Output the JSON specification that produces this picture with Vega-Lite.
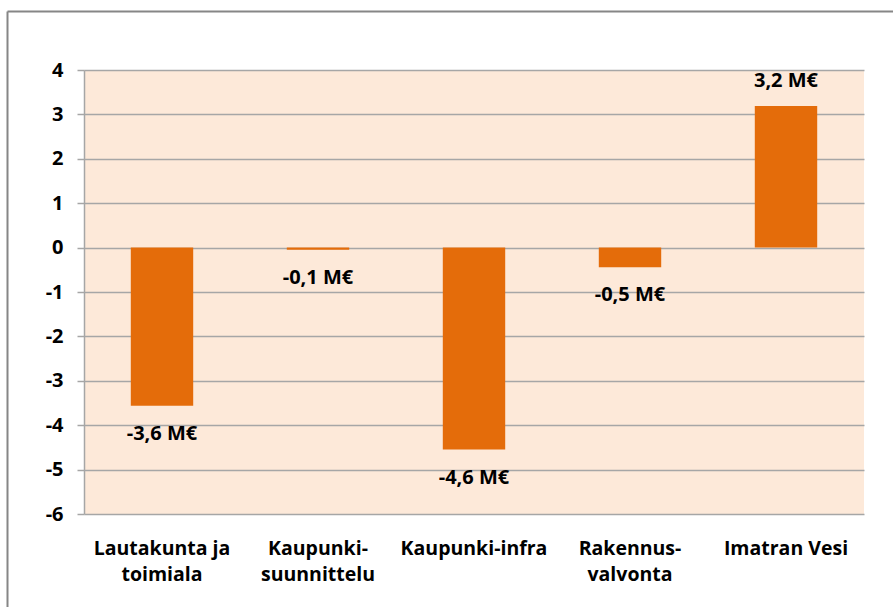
{
  "$schema": "https://vega.github.io/schema/vega-lite/v6.json",
  "width": 780,
  "height": 444,
  "autosize": "none",
  "padding": {"left": 84, "top": 70, "right": 29, "bottom": 93},
  "background": "#FFFFFF",
  "config": {
    "view": {"fill": "#FDE9D9", "stroke": null},
    "font": "Open Sans"
  },
  "data": {
    "values": [
      {"yksikko": "Lautakunta ja toimiala", "arvo": -3.56, "teksti": "-3,6 M€"},
      {"yksikko": "Kaupunki-suunnittelu", "arvo": -0.05, "teksti": "-0,1 M€"},
      {"yksikko": "Kaupunki-infra", "arvo": -4.55, "teksti": "-4,6 M€"},
      {"yksikko": "Rakennus-valvonta", "arvo": -0.44, "teksti": "-0,5 M€"},
      {"yksikko": "Imatran Vesi", "arvo": 3.19, "teksti": "3,2 M€"}
    ]
  },
  "resolve": {"scale": {"x": "independent", "y": "independent"}, "axis": {"x": "independent", "y": "independent"}},
  "layer": [
    {
      "encoding": {
        "x": {
          "field": "yksikko",
          "type": "nominal",
          "sort": null,
          "scale": {"paddingInner": 0.6, "paddingOuter": 0.3},
          "axis": {
            "orient": "bottom",
            "title": null,
            "labelAngle": 0,
            "ticks": false,
            "domain": false,
            "labelFont": "Open Sans",
            "labelFontWeight": "bold",
            "labelFontSize": 19.5,
            "labelColor": "#000000",
            "labelPadding": 25,
            "labelLineHeight": 26,
            "labelBaseline": "top",
            "labelExpr": "datum.label == 'Lautakunta ja toimiala' ? ['Lautakunta ja', 'toimiala'] : datum.label == 'Kaupunki-suunnittelu' ? ['Kaupunki-', 'suunnittelu'] : datum.label == 'Rakennus-valvonta' ? ['Rakennus-', 'valvonta'] : datum.label"
          }
        },
        "y": {
          "field": "arvo",
          "type": "quantitative",
          "scale": {"domain": [-6, 4], "nice": false, "zero": false},
          "axis": {
            "orient": "left",
            "title": null,
            "values": [-6, -5, -4, -3, -2, -1, 0, 1, 2, 3, 4],
            "labelExpr": "'' + datum.value",
            "grid": true,
            "gridColor": "#A6A6A6",
            "gridWidth": 1.5,
            "domainColor": "#A6A6A6",
            "domainWidth": 1.5,
            "tickColor": "#A6A6A6",
            "tickWidth": 1.5,
            "tickSize": 7,
            "labelPadding": 14,
            "labelFont": "Open Sans",
            "labelFontWeight": "bold",
            "labelFontSize": 20,
            "labelColor": "#000000"
          }
        }
      },
      "layer": [
        {"mark": {"type": "bar", "color": "#E46C0A"}},
        {
          "transform": [{"filter": "datum.arvo < 0"}],
          "mark": {"type": "text", "dy": 28, "baseline": "middle", "fontWeight": "bold", "fontSize": 20, "font": "Open Sans", "color": "#000000"},
          "encoding": {"text": {"field": "teksti"}}
        },
        {
          "transform": [{"filter": "datum.arvo >= 0"}],
          "mark": {"type": "text", "dy": -25, "baseline": "middle", "fontWeight": "bold", "fontSize": 20, "font": "Open Sans", "color": "#000000"},
          "encoding": {"text": {"field": "teksti"}}
        }
      ]
    },
    {
      "data": {"values": [{"k": 0}]},
      "mark": {"type": "point", "opacity": 0},
      "encoding": {
        "x": {
          "datum": 0,
          "type": "quantitative",
          "scale": {"domain": [0, 1], "range": [-77, 820], "nice": false, "zero": false},
          "axis": {"orient": "top", "offset": 59, "title": null, "labels": false, "ticks": false, "grid": false, "domainColor": "#868686", "domainWidth": 2}
        },
        "y": {
          "datum": 0,
          "type": "quantitative",
          "scale": {"domain": [0, 1], "range": [560, -59], "nice": false, "zero": false},
          "axis": {"orient": "left", "offset": 77, "title": null, "labels": false, "ticks": false, "grid": false, "domainColor": "#868686", "domainWidth": 2}
        }
      }
    }
  ]
}
